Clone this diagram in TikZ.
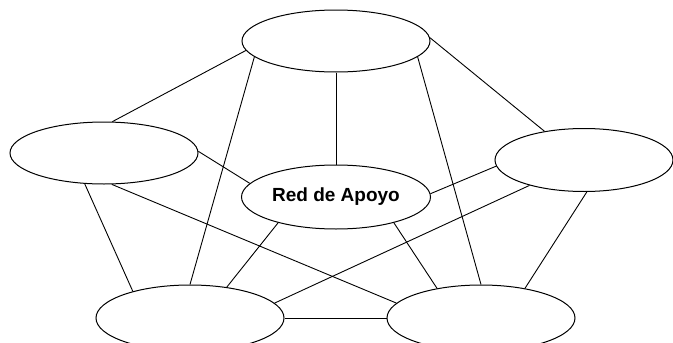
\documentclass[tikz,border=0pt]{standalone}
\usepackage{fontspec}
\setmainfont{Liberation Sans}
\usetikzlibrary{shapes.geometric}
\begin{document}
\begin{tikzpicture}[x=1pt,y=-1pt,
  oval/.style={draw, ellipse, line width=1pt, inner sep=0pt, fill=white},
  link/.style={line width=0.9pt}]
\useasboundingbox (0,0) rectangle (673,343);
\clip (0,0) rectangle (673,343);
\fill[white] (0,0) rectangle (673,343);
% links drawn first, nodes named afterwards via coordinates
\node[oval, minimum width=188pt, minimum height=62pt] (T) at (336,41) {};
\node[oval, minimum width=188pt, minimum height=62pt] (L) at (104,153) {};
\node[oval, minimum width=178pt, minimum height=63pt] (R) at (584,160) {};
\node[oval, minimum width=189pt, minimum height=64pt, font=\fontsize{19}{22}\selectfont\bfseries] (C) at (336,197) {Red de Apoyo};
\node[oval, minimum width=188pt, minimum height=66pt] (BL) at (190,318) {};
\node[oval, minimum width=188pt, minimum height=66pt] (BR) at (481,318) {};
\draw[link] (T.186) -- (L.75);
\draw[link] (T.191) -- (BL.90);
\draw[link] (T.south) -- (C.north);
\draw[link] (T.349) -- (BR.90);
\draw[link] (T.2.5) -- (R.144);
\draw[link] (L.1) -- (C.171);
\draw[link] (L.238) -- (BL.155);
\draw[link] (L.284) -- (BR.170);
\draw[link] (R.184.5) -- (C.2.5);
\draw[link] (R.205.7) -- (BL.10.5);
\draw[link] (R.275) -- (BR.34);
\draw[link] (C.204.4) -- (BL.40);
\draw[link] (C.336.3) -- (BR.146);
\draw[link] (BL.east) -- (BR.west);
\end{tikzpicture}
\end{document}
